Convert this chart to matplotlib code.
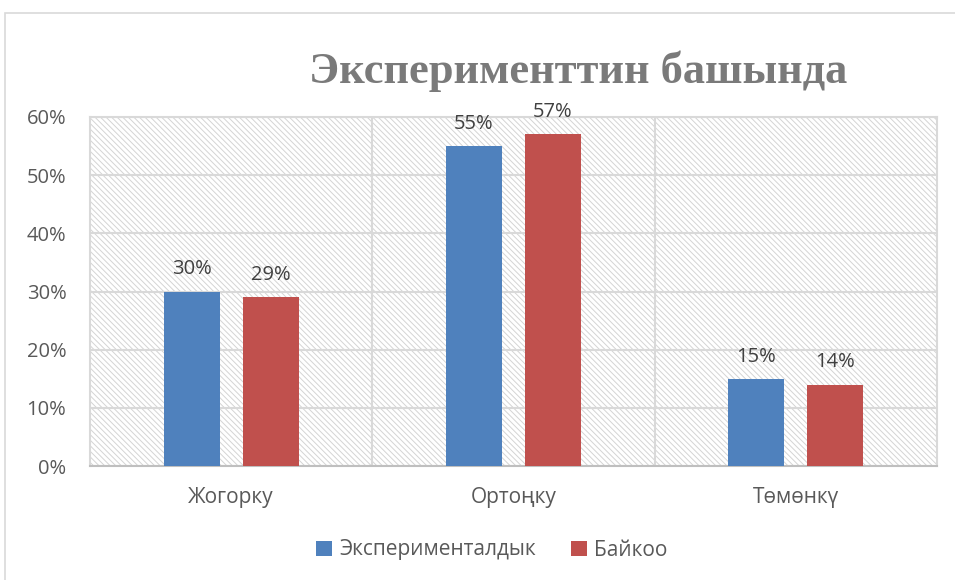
import matplotlib
matplotlib.use("Agg")
import matplotlib.pyplot as plt
import numpy as np
from matplotlib.patches import Rectangle

categories = ["Жогорку", "Ортоңку", "Төмөнкү"]
series_names = ["Эксперименталдык", "Байкоо"]
exp_values = [30, 55, 15]
ctrl_values = [29, 57, 14]
yticks = [0, 10, 20, 30, 40, 50, 60]
title = "Эксперименттин башында"

colors = ["#4F81BD", "#C0504D"]
plt.rcParams['font.family'] = ['Open Sans', 'DejaVu Sans']
plt.rcParams['hatch.color'] = '#d4d4d4'
plt.rcParams['hatch.linewidth'] = 0.7

fig = plt.figure(figsize=(9.55, 5.8), dpi=100)
# chart border
fig.patches.append(Rectangle((5/955, -0.02), 1.0, 1 - 13/580 + 0.02, transform=fig.transFigure,
                             fill=False, edgecolor='#d9d9d9', linewidth=1.2))

ax = fig.add_axes([90/955, 1 - 466/580, (937 - 90)/955, (466 - 117)/580])
ax.set_xlim(-0.5, 2.5)
ax.set_ylim(0, 60)

# hatched background
ax.add_patch(Rectangle((-0.5, 0), 3, 60, facecolor='white', hatch='\\\\\\\\\\\\',
                       edgecolor='#d4d4d4', linewidth=0, zorder=0))

for y in yticks:
    ax.axhline(y, color='#d9d9d9', linewidth=1.5, zorder=1)
for xv in [0.5, 1.5]:
    ax.axvline(xv, color='#d9d9d9', linewidth=1.5, zorder=1)

x = np.arange(len(categories))
w = 0.198
off = 0.14
b1 = ax.bar(x - off, exp_values, w, color=colors[0], zorder=3, label=series_names[0])
b2 = ax.bar(x + off, ctrl_values, w, color=colors[1], zorder=3, label=series_names[1])

for bars, vals in [(b1, exp_values), (b2, ctrl_values)]:
    for b, v in zip(bars, vals):
        ax.text(b.get_x() + b.get_width()/2, v + 2.1, f"{v}%", ha='center', va='bottom',
                fontsize=14.5, color='#404040', zorder=4)

ax.set_yticks(yticks)
ax.set_yticklabels([f"{t}%" for t in yticks], fontsize=14.5, color='#595959')
ax.set_xticks(x)
ax.set_xticklabels(categories, fontsize=15, color='#595959')
ax.tick_params(axis='both', length=0)
ax.tick_params(axis='x', pad=15)
ax.tick_params(axis='y', pad=17)
for s in ax.spines.values():
    s.set_color('#d9d9d9')
    s.set_linewidth(1.5)
ax.spines['bottom'].set_color('#bfbfbf')

fig.text(578/955, 1 - 71/580, title, ha='center', va='center', fontsize=32, fontweight='bold',
         color='#7a7a7a', family=['Liberation Serif', 'DejaVu Serif'])

fig.legend(handles=[b1, b2], labels=series_names, loc='center', bbox_to_anchor=(492/955, 1 - 550/580),
           ncol=2, frameon=False, fontsize=15, handlelength=0.75, handleheight=0.75,
           handletextpad=0.35, columnspacing=1.7, labelcolor='#595959')

fig.savefig("out.png", dpi=100)
